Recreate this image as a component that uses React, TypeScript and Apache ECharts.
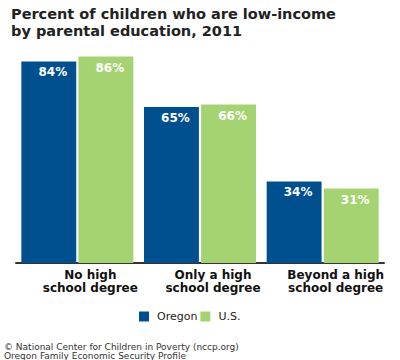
import React, { useEffect, useRef } from "react";
import * as echarts from "echarts";

const categories = ["No high\nschool degree", "Only a high\nschool degree", "Beyond a high\nschool degree"];
const oregonValues = [84, 65, 34];
const usValues = [86, 66, 31];
const seriesNames = ["Oregon", "U.S."];
const titleText = "Percent of children who are low-income\nby parental education, 2011";
const footerLines = [
  "\u00a9 National Center for Children in Poverty (nccp.org)",
  "Oregon Family Economic Security Profile",
];

const FONT = "DejaVu Sans, Verdana, sans-serif";

export default function App() {
  const ref = useRef<HTMLDivElement>(null);
  useEffect(() => {
    if (!ref.current) return;
    const chart = echarts.init(ref.current, undefined, { renderer: "svg" });
    const label = {
      show: true,
      position: "insideTop" as const,
      distance: 5,
      offset: [4, 0],
      color: "#ffffff",
      fontFamily: FONT,
      fontWeight: "bold" as const,
      fontSize: 12,
      formatter: (p: any) => p.value + "%",
    };
    chart.setOption({
      animation: false,
      backgroundColor: "#ffffff",
      title: {
        text: titleText,
        left: 11,
        top: 5,
        padding: 0,
        textStyle: {
          fontFamily: FONT,
          fontWeight: "bold",
          fontSize: 14.5,
          lineHeight: 17,
          color: "#222222",
        },
      },
      legend: {
        left: 139,
        top: 311,
        padding: 0,
        itemWidth: 10,
        itemHeight: 10,
        itemGap: 3,
        icon: "rect",
        textStyle: {
          fontFamily: FONT,
          fontSize: 11,
          color: "#222222",
          padding: [0, 0, 0, 3],
        },
        data: seriesNames,
      },
      grid: { left: 16, right: 16, top: 23, bottom: 97, containLabel: false },
      xAxis: {
        type: "category",
        data: categories,
        axisLine: { show: true, lineStyle: { color: "#333333", width: 2 } },
        axisTick: { show: false },
        axisLabel: {
          fontFamily: FONT,
          fontWeight: "bold",
          fontSize: 12,
          lineHeight: 13,
          color: "#111111",
          margin: 5,
          padding: [0, 0, 0, 26],
          interval: 0,
        },
      },
      yAxis: {
        type: "value",
        min: 0,
        max: 100,
        show: false,
        splitLine: { show: false },
      },
      series: [
        {
          name: seriesNames[0],
          type: "bar",
          data: oregonValues,
          barGap: "4%",
          barCategoryGap: "8.7%",
          itemStyle: { color: "#00508f" },
          label,
        },
        {
          name: seriesNames[1],
          type: "bar",
          data: usValues,
          itemStyle: { color: "#a6d372" },
          label,
        },
      ],
      graphic: footerLines.map((t, i) => ({
        type: "text",
        left: 4,
        top: 342 + i * 9,
        style: {
          text: t,
          fontFamily: FONT,
          fontSize: 9,
          fill: "#333333",
        },
      })),
    });
    return () => chart.dispose();
  }, []);
  return (
    <div
      ref={ref}
      style={{ position: "fixed", left: 0, top: 0, width: 400, height: 360 }}
    />
  );
}
